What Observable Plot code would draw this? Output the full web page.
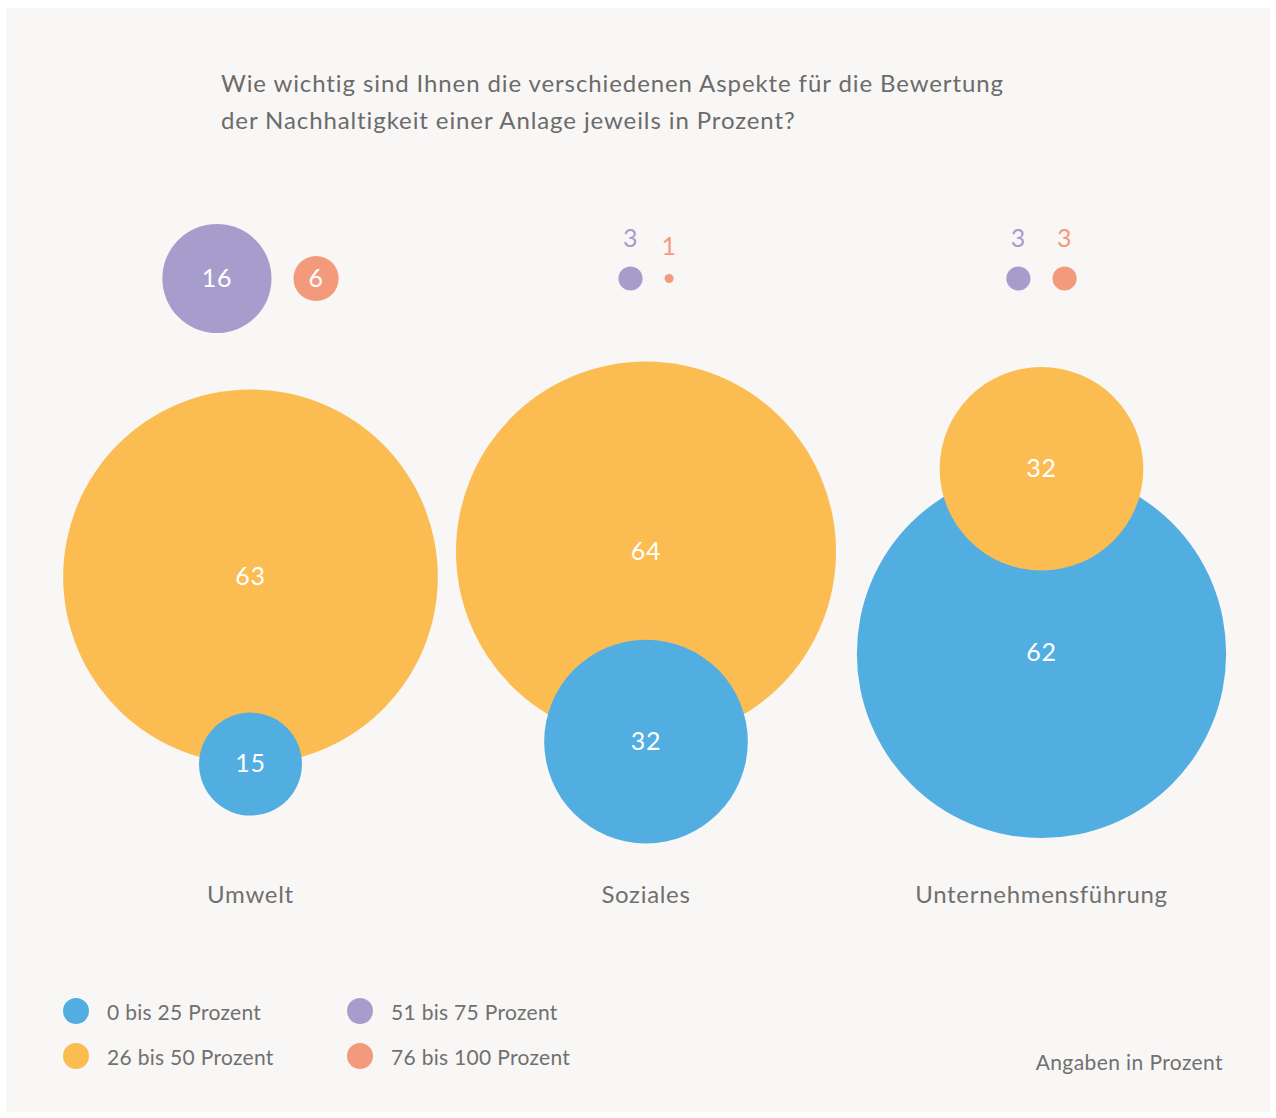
<!DOCTYPE html>
<html>
<head>
<meta charset="utf-8">
<script src="https://cdn.jsdelivr.net/npm/d3@7"></script>
<script src="https://cdn.jsdelivr.net/npm/@observablehq/plot@0.6"></script>
<style>
  body { margin: 0; background: #ffffff; font-family: Lato, "Open Sans", sans-serif; }
  #wrap { position: relative; width: 1276px; height: 1118px; overflow: hidden; }
  #card { position: absolute; left: 6px; top: 8px; width: 1264px; height: 1104px; background: #f8f7f5; }
  #title { position: absolute; left: 221px; top: 64px; font-size: 24px; line-height: 37px; color: #6b6b6b; letter-spacing: 0.9px; }
  #chart { position: absolute; left: 0; top: 0; }
  #legend { position: absolute; left: 63px; top: 998px; display: grid; grid-template-columns: 284px auto; grid-auto-flow: column; grid-template-rows: 45px 45px; }
  .item { display: flex; align-items: center; height: 26px; font-size: 21px; color: #707070; letter-spacing: 0.3px; }
  .sw { width: 26px; height: 26px; border-radius: 50%; margin-right: 18px; flex: none; }
  #note { position: absolute; right: 53px; top: 1049px; font-size: 21px; color: #707070; letter-spacing: 0.4px; }
</style>
</head>
<body>
<div id="wrap">
  <div id="card"></div>
  <div id="title">Wie wichtig sind Ihnen die verschiedenen Aspekte für die Bewertung<br>der Nachhaltigkeit einer Anlage jeweils in Prozent?</div>
  <div id="chart"></div>
  <div id="legend"></div>
  <div id="note">Angaben in Prozent</div>
</div>
<script>
// ---- data ----
const categories = ["Umwelt", "Soziales", "Unternehmensführung"];
const bands = ["0 bis 25 Prozent", "26 bis 50 Prozent", "51 bis 75 Prozent", "76 bis 100 Prozent"];
const colors = ["#52aee1", "#fbbc52", "#a79dcd", "#f39a7c"];
const umwelt = [15, 63, 16, 6];
const soziales = [32, 64, 3, 1];
const unternehmensfuehrung = [62, 32, 3, 3];
const series = [umwelt, soziales, unternehmensfuehrung];

// ---- scales used for layout ----
const rOptions = {type: "pow", exponent: 0.9, domain: [0, 64], range: [0, 190]};
const rScale = Plot.scale({r: rOptions});
const R = v => rScale.apply(v);
const catScale = Plot.scale({x: {type: "point", domain: categories, range: [250, 1041], padding: 0}});

const TOP_Y = 278, MID_Y = 602, GAP = 22, LABEL_Y = 895;
const nodes = [];
categories.forEach((c, i) => {
  const v = series[i];
  const cx = catScale.apply(c);
  const rb = R(v[0]), ro = R(v[1]);
  const big = Math.max(rb, ro);
  const top = Math.min(-ro, big - rb), bottom = Math.max(ro, big + rb);
  const yo = MID_Y - (top + bottom) / 2;
  nodes.push({cat: c, band: bands[1], value: v[1], x: cx, y: yo, r: ro});
  nodes.push({cat: c, band: bands[0], value: v[0], x: cx, y: yo + big, r: rb});
  const rp = R(v[2]), rr = R(v[3]);
  const left = cx - (2 * rp + GAP + 2 * rr) / 2;
  nodes.push({cat: c, band: bands[2], value: v[2], x: left + rp, y: TOP_Y, r: rp});
  nodes.push({cat: c, band: bands[3], value: v[3], x: left + 2 * rp + GAP + rr, y: TOP_Y, r: rr});
});
nodes.sort((a, b) => b.value - a.value);
const inside = nodes.filter(d => d.r >= 18);
const outside = nodes.filter(d => d.r < 18);

const chart = Plot.plot({
  width: 1276,
  height: 960,
  margin: 0,
  x: {type: "identity", axis: null},
  y: {type: "identity", axis: null},
  r: rOptions,
  color: {domain: bands, range: colors},
  style: {background: "transparent", fontFamily: "Lato, 'Open Sans', sans-serif", letterSpacing: "0.7px"},
  marks: [
    Plot.dot(nodes, {x: "x", y: "y", r: "value", fill: "band", sort: null}),
    Plot.text(inside, {x: "x", y: "y", text: d => String(d.value), fill: "white", fontSize: 25}),
    Plot.text(outside, {x: "x", y: d => d.y - d.r - 27, text: d => String(d.value), fill: "band", fontSize: 25}),
    Plot.text(categories, {x: d => catScale.apply(d), y: () => LABEL_Y, text: d => d, fill: "#707070", fontSize: 24})
  ]
});
document.getElementById("chart").appendChild(chart);

// ---- legend ----
const legend = document.getElementById("legend");
bands.forEach((b, i) => {
  const item = document.createElement("div");
  item.className = "item";
  const sw = document.createElement("span");
  sw.className = "sw";
  sw.style.background = colors[i];
  const t = document.createElement("span");
  t.textContent = b;
  item.appendChild(sw);
  item.appendChild(t);
  legend.appendChild(item);
});
</script>
</body>
</html>
